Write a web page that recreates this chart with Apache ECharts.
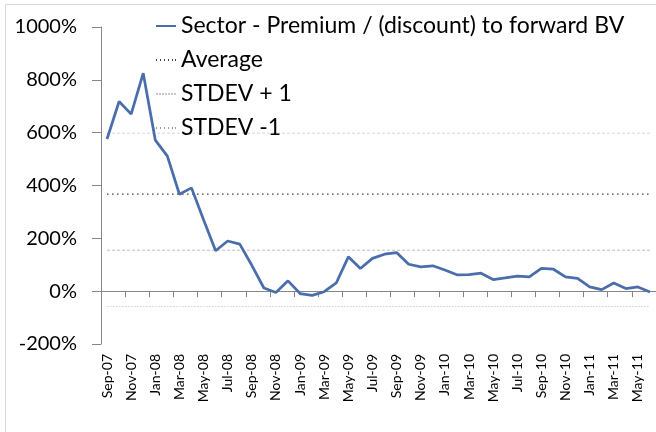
<!DOCTYPE html>
<html>
<head>
<meta charset="utf-8">
<script src="https://cdn.jsdelivr.net/npm/echarts@6/dist/echarts.min.js"></script>
<style>
  html, body { margin: 0; padding: 0; background: #fff; }
  #chart { width: 656px; height: 432px; }
</style>
</head>
<body>
<div id="chart"></div>
<script>
// months, Sep-07 .. Jun-11
var months = ['Sep-07','Oct-07','Nov-07','Dec-07','Jan-08','Feb-08','Mar-08','Apr-08','May-08','Jun-08',
  'Jul-08','Aug-08','Sep-08','Oct-08','Nov-08','Dec-08','Jan-09','Feb-09','Mar-09','Apr-09',
  'May-09','Jun-09','Jul-09','Aug-09','Sep-09','Oct-09','Nov-09','Dec-09','Jan-10','Feb-10',
  'Mar-10','Apr-10','May-10','Jun-10','Jul-10','Aug-10','Sep-10','Oct-10','Nov-10','Dec-10',
  'Jan-11','Feb-11','Mar-11','Apr-11','May-11','Jun-11'];

// premium / (discount) in %
var premium = [576, 718, 670, 825, 572, 511, 367, 391, 270, 153,
  190, 178, 98, 12, -5, 39, -9, -16, -2, 31,
  130, 86, 124, 140, 146, 102, 92, 96, 80, 62,
  63, 68, 44, 50, 57, 54, 86, 83, 54, 48,
  16, 6, 31, 10, 16, -3];

var averageLevel = 367;
var stdevPlusLevel = 598;
var stdevMinusLevel = 155;
var stdevMinus2Level = -58;

var yTicks = [-200, 0, 200, 400, 600, 800, 1000];

var FONT = 'Lato';

// legend markers (line samples)
var ICON_SOLID = 'path://M0,0H20V2H0Z';
var ICON_DOT = 'path://M0,0h1v2h-1zM4,0h1v2h-1zM8,0h1v2h-1zM12,0h1v2h-1zM16,0h1v2h-1zM19,0h1v2h-1z';
var ICON_DASH = 'path://M0,0h2v2h-2zM3,0h2v2h-2zM6,0h2v2h-2zM9,0h2v2h-2zM12,0h2v2h-2zM15,0h2v2h-2zM18,0h2v2h-2z';

function flat(v) {
    return months.map(function() { return v; });
}

var chart = echarts.init(document.getElementById('chart'));

var option = {
    animation: false,
    textStyle: { fontFamily: FONT },
    graphic: [{
        type: 'rect',
        shape: { x: 5.5, y: 4.5, width: 700, height: 500 },
        style: { fill: 'none', stroke: '#d9d9d9', lineWidth: 1 },
        silent: true
    }],
    legend: {
        orient: 'vertical',
        left: 151,
        top: 9,
        itemWidth: 20,
        itemHeight: 2,
        itemGap: 10,
        textStyle: { fontFamily: FONT, fontSize: 23, color: '#000', lineHeight: 24 },
        data: [
            { name: 'Sector - Premium / (discount) to forward BV', icon: ICON_SOLID },
            { name: 'Average', icon: ICON_DOT },
            { name: 'STDEV + 1', icon: ICON_DASH },
            { name: 'STDEV -1', icon: ICON_DOT }
        ]
    },
    grid: { left: 101, right: -9, top: 27, bottom: 88, containLabel: false },
    xAxis: [{
        type: 'category',
        data: months,
        boundaryGap: true,
        axisLine: { onZero: true, lineStyle: { color: '#868686', width: 1 } },
        axisTick: { show: true, interval: 1, length: 6, lineStyle: { color: '#868686' } },
        axisLabel: { show: false },
        splitLine: { show: false }
    }, {
        type: 'category',
        data: months,
        position: 'bottom',
        boundaryGap: true,
        axisLine: { show: false, onZero: false },
        axisTick: { show: false },
        axisLabel: { interval: 1, rotate: 90, margin: 10, fontFamily: FONT, fontSize: 14, color: '#000' },
        splitLine: { show: false }
    }],
    yAxis: {
        type: 'value',
        min: yTicks[0],
        max: yTicks[yTicks.length - 1],
        interval: 200,
        axisLine: { show: true, lineStyle: { color: '#868686', width: 1 } },
        axisTick: { show: true, length: 9, lineStyle: { color: '#868686' } },
        axisLabel: {
            margin: 24, fontFamily: FONT, fontSize: 20, color: '#000',
            formatter: function(v) { return v + '%'; }
        },
        splitLine: { show: false }
    },
    series: [{
        name: 'Sector - Premium / (discount) to forward BV',
        type: 'line',
        data: premium,
        symbol: 'none',
        lineStyle: { color: '#4a6eac', width: 2.75 },
        itemStyle: { color: '#4a6eac' },
        z: 5
    }, {
        name: 'Average',
        type: 'line',
        data: flat(averageLevel),
        symbol: 'none',
        lineStyle: { color: '#404040', width: 1.2, type: [1.5, 3.5] },
        itemStyle: { color: '#404040' }
    }, {
        name: 'STDEV + 1',
        type: 'line',
        data: flat(stdevPlusLevel),
        symbol: 'none',
        lineStyle: { color: '#d6d6d6', width: 1, type: [3, 2] },
        itemStyle: { color: '#c8c8c8' }
    }, {
        name: 'STDEV -1',
        type: 'line',
        data: flat(stdevMinusLevel),
        symbol: 'none',
        lineStyle: { color: '#bdbdbd', width: 1, type: [3, 2] },
        itemStyle: { color: '#9a9a9a' }
    }, {
        name: 'STDEV -2',
        type: 'line',
        data: flat(stdevMinus2Level),
        symbol: 'none',
        lineStyle: { color: '#cfcfcf', width: 1, type: [1.5, 1.5] },
        itemStyle: { color: '#cfcfcf' }
    }]
};

chart.setOption(option);
</script>
</body>
</html>
